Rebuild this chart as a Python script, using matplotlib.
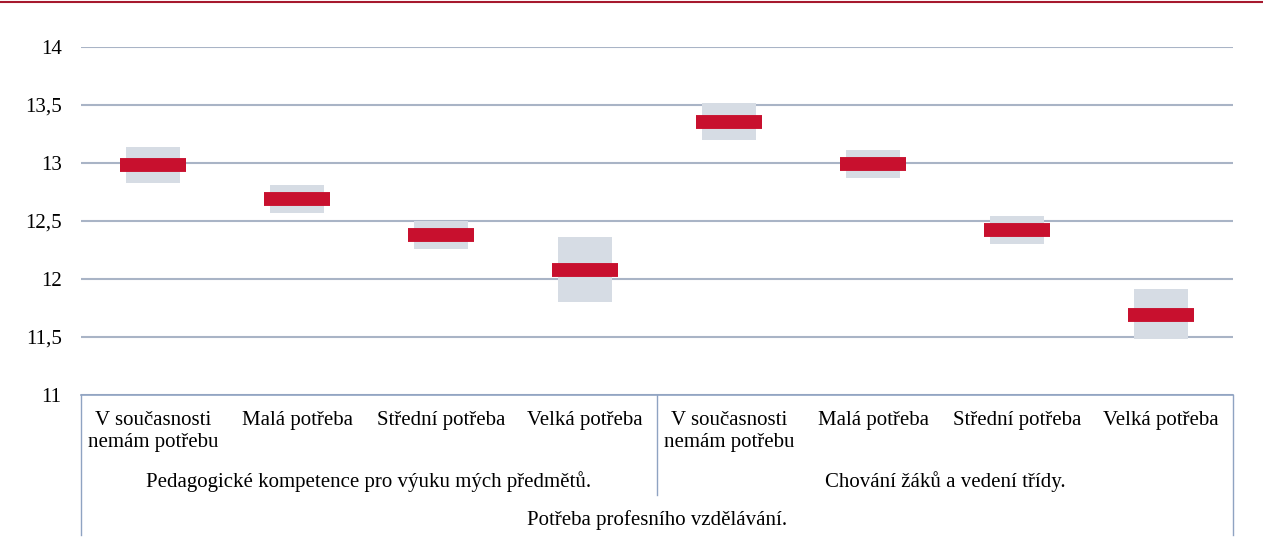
import matplotlib
matplotlib.use("Agg")
import matplotlib.pyplot as plt
from matplotlib.lines import Line2D
from matplotlib.ticker import FuncFormatter
import numpy as np

# data
categories = ["V současnosti\nnemám potřebu", "Malá potřeba", "Střední potřeba", "Velká potřeba"] * 2
groups = ["Pedagogické kompetence pro výuku mých předmětů.", "Chování žáků a vedení třídy."]
outer_label = "Potřeba profesního vzdělávání."
means = [12.98, 12.69, 12.38, 12.08, 13.35, 12.99, 12.42, 11.69]
lows = [12.825, 12.57, 12.26, 11.80, 13.20, 12.87, 12.30, 11.48]
highs = [13.14, 12.81, 12.50, 12.36, 13.52, 13.11, 12.54, 11.91]

plt.rcParams['font.family'] = ['Liberation Serif', 'DejaVu Serif']

RED = "#C8102E"
BOX = "#D6DCE4"
GRID = "#A9B4C6"
AXIS = "#8FA3C2"
FS = 15

fig = plt.figure(figsize=(12.63, 5.47), dpi=100)
ax = fig.add_axes([81 / 1263, 1 - 395 / 547, 1152 / 1263, 348 / 547])

x = np.arange(len(means)) + 0.5
lows = np.array(lows)
highs = np.array(highs)

# grey range boxes and red mean markers
ax.bar(x, highs - lows, bottom=lows, width=0.372, color=BOX, zorder=2)
marks = ax.hlines(means, x - 0.2325, x + 0.2325, colors=RED, linewidth=10, zorder=3)
marks.set_capstyle("butt")

ax.set_xlim(0, len(means))
ax.set_ylim(11, 14)
ax.set_yticks(np.arange(11, 14.01, 0.5))
ax.yaxis.set_major_formatter(FuncFormatter(lambda v, p: f"{v:g}".replace(".", ",")))
ax.tick_params(axis="y", length=0, pad=14, labelsize=FS)
ax.set_xticks([])
ax.grid(axis="y", color=GRID, linewidth=1.5, zorder=1)
ax.set_axisbelow(True)
for side in ["left", "right", "top"]:
    ax.spines[side].set_visible(False)
ax.spines["bottom"].set_color(AXIS)
ax.spines["bottom"].set_linewidth(1.2)

# category axis: separators and labels
tr = ax.get_xaxis_transform()
n = len(means)
for xv, ybot in [(0, -0.402), (n / 2, -0.287), (n, -0.402)]:
    ax.add_line(Line2D([xv, xv], [0, ybot], transform=tr, color=AXIS, linewidth=1, clip_on=False))

for xi, lab in zip(x, categories):
    ax.text(xi, -0.045, lab, transform=tr, ha="center", va="top", fontsize=FS, linespacing=1.25)

half = n / len(groups)
for gi, g in enumerate(groups):
    ax.text(gi * half + half / 2, -0.25, g, transform=tr, ha="center", va="center", fontsize=FS)

ax.text(n / 2, -0.36, outer_label, transform=tr, ha="center", va="center", fontsize=FS)

# thin red rule at the very top of the image
fig.add_artist(Line2D([0, 1], [1 - 2 / 547, 1 - 2 / 547], transform=fig.transFigure, color="#A6192E", linewidth=1.5))

fig.savefig("out.png", dpi=100)
